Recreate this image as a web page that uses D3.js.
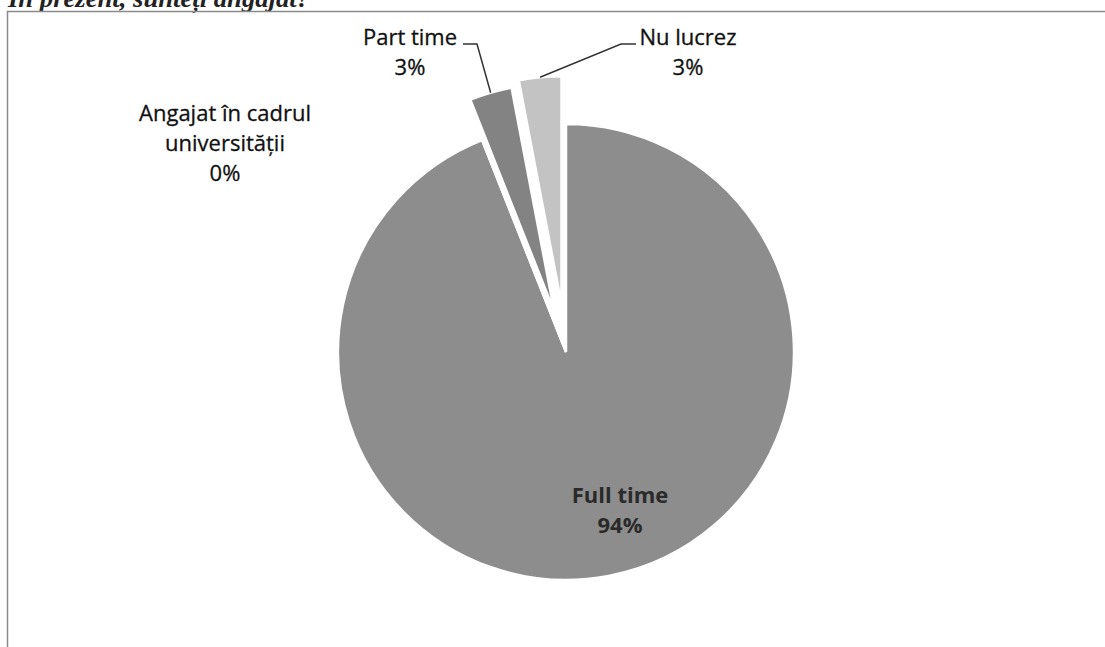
<!DOCTYPE html>
<html>
<head>
<meta charset="utf-8">
<script src="https://cdn.jsdelivr.net/npm/d3@7"></script>
<style>
  body { margin: 0; background: #fff; }
  svg { display: block; }
</style>
</head>
<body>
<svg id="chart"></svg>
<script>
// data
const categories = ["Full time", "Angajat în cadrul universității", "Part time", "Nu lucrez"];
const values = [94, 0, 3, 3];
const percentLabels = ["94%", "0%", "3%", "3%"];
const labelLines = [["Full time"], ["Angajat în cadrul", "universității"], ["Part time"], ["Nu lucrez"]];

const colors = ["#8d8d8d", "#8d8d8d", "#838383", "#c3c3c3"];
const explode = [0, 0, 42, 48];

const width = 1105, height = 647;
const cx = 566, cy = 352, radius = 228;

const svg = d3.select("#chart").attr("width", width).attr("height", height);

// title, mostly cut off at the top of the scan
svg.append("text")
  .attr("x", 8)
  .attr("y", 7)
  .attr("textLength", 302)
  .attr("lengthAdjust", "spacingAndGlyphs")
  .style("font-family", "Liberation Serif, serif")
  .style("font-style", "italic")
  .style("font-weight", "bold")
  .style("font-size", "25px")
  .attr("fill", "#222")
  .text("În prezent, sunteți angajat?");

// chart border
svg.append("rect")
  .attr("x", 7.5).attr("y", 11.5)
  .attr("width", 1120).attr("height", 700)
  .attr("fill", "none")
  .attr("stroke", "#8a8a8a")
  .attr("stroke-width", 1.5);

const pie = d3.pie().sort(null).value((d) => d);
const arcs = pie(values);
const arc = d3.arc().innerRadius(0).outerRadius(radius);

const g = svg.append("g").attr("transform", `translate(${cx},${cy})`);

function offset(d, i) {
  const mid = (d.startAngle + d.endAngle) / 2;
  return [Math.sin(mid) * explode[i], -Math.cos(mid) * explode[i]];
}

g.selectAll("path")
  .data(arcs)
  .join("path")
  .attr("d", arc)
  .attr("transform", (d, i) => `translate(${offset(d, i)})`)
  .attr("fill", (d, i) => colors[i])
  .attr("stroke", "#fff")
  .attr("stroke-width", 2.5)
  .attr("stroke-linejoin", "miter");

// labels (positions as laid out in the original)
const labelPos = [
  { x: 620, y: 503, bold: true },
  { x: 225, y: 121 },
  { x: 410, y: 45 },
  { x: 688, y: 45 }
];
const lineH = 30;

categories.forEach((c, i) => {
  const p = labelPos[i];
  const t = svg.append("text")
    .attr("text-anchor", "middle")
    .style("font-family", "Open Sans, sans-serif")
    .style("font-size", "22px")
    .style("font-weight", p.bold ? "bold" : "normal")
    .attr("fill", p.bold ? "#2a2a2a" : "#111")
    .attr("stroke", p.bold ? "none" : "#111")
    .attr("stroke-width", 0.3);
  const lines = labelLines[i].concat([percentLabels[i]]);
  lines.forEach((l, k) => {
    t.append("tspan").attr("x", p.x).attr("y", p.y + k * lineH).text(l);
  });
});

// leader lines for the exploded slices
const leaders = [
  { i: 2, from: [463, 44], elbow: [477, 44] },
  { i: 3, from: [636, 44], elbow: [621, 44] }
];
leaders.forEach((l) => {
  const d = arcs[l.i];
  const mid = (d.startAngle + d.endAngle) / 2;
  const r = radius + explode[l.i];
  const end = [cx + Math.sin(mid) * r, cy - Math.cos(mid) * r];
  svg.append("path")
    .attr("d", d3.line()([l.from, l.elbow, end]))
    .attr("fill", "none")
    .attr("stroke", "#333")
    .attr("stroke-width", 1.5);
});
</script>
</body>
</html>
